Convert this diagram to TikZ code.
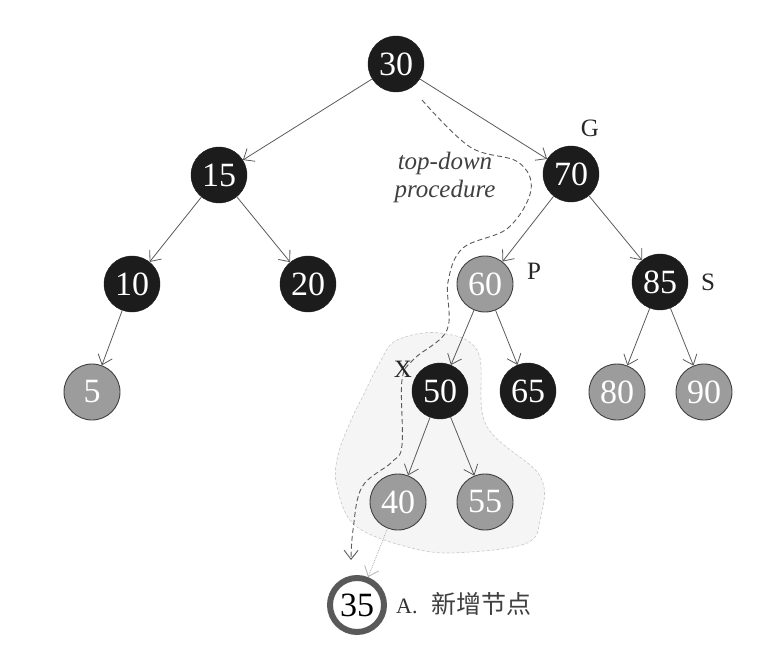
\documentclass[tikz,border=0pt]{standalone}
\usepackage{fontspec}
\setmainfont{Liberation Serif}
\newfontfamily\cjk{Noto Sans CJK SC}
\usetikzlibrary{arrows.meta}
\definecolor{blk}{HTML}{1C1C1C}
\definecolor{gry}{HTML}{9C9C9C}
\definecolor{edgec}{HTML}{5A5A5A}
\begin{document}
\begin{tikzpicture}[x=1pt,y=-1pt,
  rbnode/.style={circle, minimum size=56pt, inner sep=0pt, font=\fontsize{34}{34}\selectfont, text=white},
  blacknode/.style={rbnode, fill=blk, draw=blk},
  rednode/.style={rbnode, fill=gry, draw=black!75, line width=0.9pt},
  newnode/.style={circle, minimum size=54pt, inner sep=0pt, draw=black!65, line width=6pt, fill=white, text=black, font=\fontsize{34}{34}\selectfont},
  edgeline/.style={draw=edgec, line width=0.8pt, -{Straight Barb[length=9pt,width=15pt]}},
  lbl/.style={font=\fontsize{25}{25}\selectfont, text=black!85, inner sep=0pt}]
\useasboundingbox (0,0) rectangle (760,652);
% shaded region around subtree of 50
\fill[black!4] plot[smooth cycle, tension=0.6] coordinates {
  (397,340) (440,333) (478,352) (486,425) (540,476) (540,520) (527,543)
  (470,552) (420,550) (357,527) (337,487) (338,455) (352,418) (362,398) (380,362)};
\draw[black!22, densely dashed, line width=0.6pt] plot[smooth cycle, tension=0.6] coordinates {
  (397,340) (440,333) (478,352) (486,425) (540,476) (540,520) (527,543)
  (470,552) (420,550) (357,527) (337,487) (338,455) (352,418) (362,398) (380,362)};
% nodes
\node[blacknode] (n30) at (396,64) {30};
\node[blacknode] (n15) at (219,175) {15};
\node[blacknode] (n70) at (571,174) {70};
\node[blacknode] (n10) at (132,284) {10};
\node[blacknode] (n20) at (308,284) {20};
\node[rednode]   (n60) at (485,284) {60};
\node[blacknode] (n85) at (660,282) {85};
\node[rednode]   (n5)  at (92,392) {5};
\node[blacknode] (n50) at (440,391) {50};
\node[blacknode] (n65) at (528,391) {65};
\node[rednode]   (n80) at (617,392) {80};
\node[rednode]   (n90) at (704,392) {90};
\node[rednode]   (n40) at (398,502) {40};
\node[rednode]   (n55) at (485,502) {55};
\node[newnode]   (n35) at (357,605) {35};
% labels
\node[lbl] (lG) at (590,128) {G};
\node[lbl] (lP) at (534,271) {P};
\node[lbl] (lS) at (708,282) {S};
\node[lbl] (lX) at (403,369) {X};
\node[anchor=west, inner sep=0pt, font=\fontsize{22}{22}\selectfont, text=black!80] (lA) at (396,604) {A.\hspace{14pt}{\cjk\fontsize{25}{25}\selectfont\color{black!75}新增节点}};
\node[font=\fontsize{25}{28}\selectfont\itshape, text=black!75, align=center] (td) at (445,177) {top-down\\procedure};
% edges
\draw[edgeline] (n30) -- (n15);
\draw[edgeline] (n30) -- (n70);
\draw[edgeline] (n15) -- (n10);
\draw[edgeline] (n15) -- (n20);
\draw[edgeline] (n10) -- (n5);
\draw[edgeline] (n70) -- (n60);
\draw[edgeline] (n70) -- (n85);
\draw[edgeline] (n60) -- (n50);
\draw[edgeline] (n60) -- (n65);
\draw[edgeline] (n85) -- (n80);
\draw[edgeline] (n85) -- (n90);
\draw[edgeline] (n50) -- (n40);
\draw[edgeline] (n50) -- (n55);
\draw[draw=black!30, line width=0.8pt, densely dotted, -{Straight Barb[length=9pt,width=15pt]}] (n40) -- (n35);
% top-down path
\coordinate (ps) at (422,100);
\coordinate (pe) at (351,560);
\draw[edgec, dash pattern=on 5pt off 3pt, line width=0.9pt, -{Straight Barb[length=9pt,width=14pt]}]
  plot[smooth, tension=0.6] coordinates {(ps) (470,147) (518,162) (531,190) (508,228) (463,248) (448,282) (447,330) (414,359) (402,380) (402,445) (392,462) (362,487) (353,530) (pe)};
\end{tikzpicture}
\end{document}
